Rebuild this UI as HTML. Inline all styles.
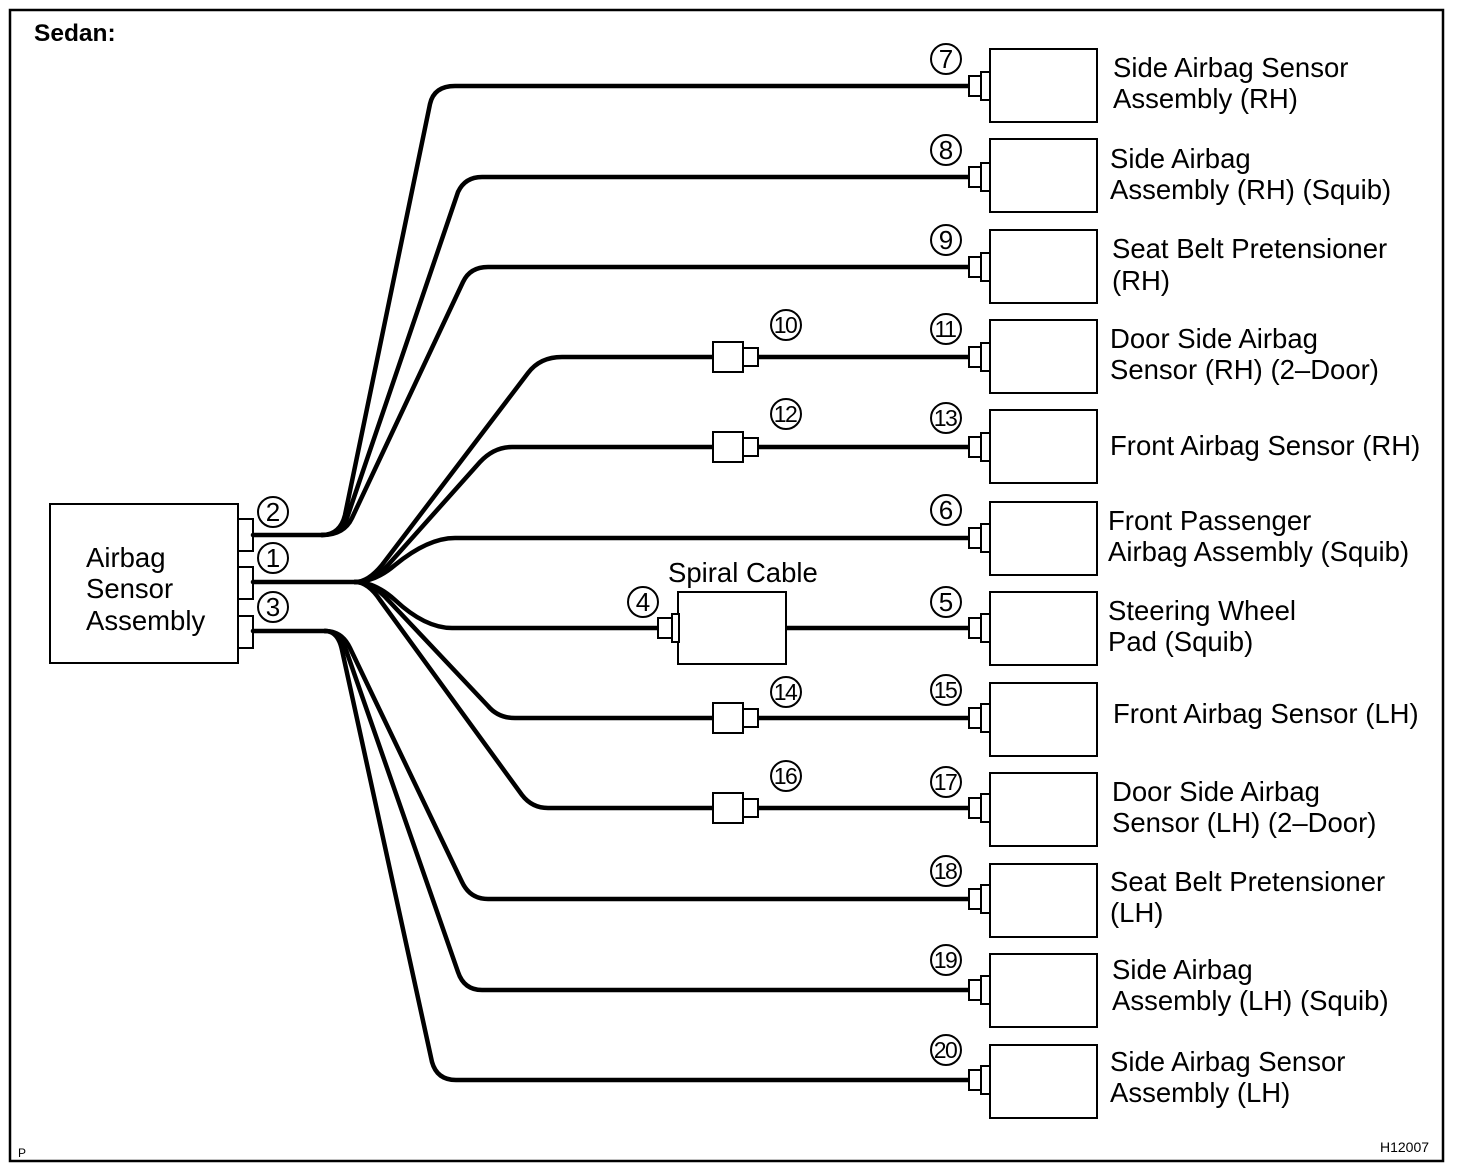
<!DOCTYPE html>
<html><head><meta charset="utf-8"><style>
html,body{margin:0;padding:0;background:#fff}
svg{display:block}
text{font-family:"Liberation Sans",Arial,sans-serif;fill:#000}
</style></head><body>
<svg width="1472" height="1176" viewBox="0 0 1472 1176" xmlns="http://www.w3.org/2000/svg">
<rect x="10" y="10" width="1433" height="1151" fill="none" stroke="#000" stroke-width="2.5"/>
<text x="34" y="41" font-size="24.5" font-weight="bold">Sedan:</text>
<text x="18" y="1157" font-size="12">P</text>
<text x="1380" y="1152" font-size="14">H12007</text>

<rect x="50" y="504" width="188" height="159" fill="#fff" stroke="#000" stroke-width="2"/>
<g font-size="27.5">
<text x="86" y="567">Airbag</text>
<text x="86" y="598">Sensor</text>
<text x="86" y="630">Assembly</text>
</g>
<rect x="238" y="519" width="15" height="32" fill="#fff" stroke="#000" stroke-width="2"/>
<rect x="238" y="567" width="15" height="32" fill="#fff" stroke="#000" stroke-width="2"/>
<rect x="238" y="616" width="15" height="32" fill="#fff" stroke="#000" stroke-width="2"/>

<g fill="none" stroke="#000" stroke-width="4.5" stroke-linecap="round" stroke-linejoin="round">
<path d="M253,535 L322,535"/>
<path d="M253,582 L355,582"/>
<path d="M253,631 L325,631"/>
<path d="M322,535 Q340,535 345,515 L430,104 Q434,86 455,86 L969,86"/>
<path d="M322,535 Q342,535 348,515 L458,192 Q465,177 482,177 L969,177"/>
<path d="M322,535 Q344,535 352,518 L463,282 Q470,267 488,267 L969,267"/>
<path d="M355,582 Q368,582 382,565 L528,373 Q540,357 562,357 L713,357"/>
<path d="M758,357 L969,357"/>
<path d="M355,582 Q372,582 388,565 L480,462 Q494,447 512,447 L713,447"/>
<path d="M758,447 L969,447"/>
<path d="M355,582 Q375,582 395,565 Q428,538 455,538 L969,538"/>
<path d="M355,582 Q375,582 395,600 Q425,628 452,628 L660,628"/>
<path d="M786,628 L969,628"/>
<path d="M355,582 Q372,582 388,600 L488,706 Q498,718 515,718 L713,718"/>
<path d="M758,718 L969,718"/>
<path d="M355,582 Q368,582 380,600 L522,795 Q532,808 548,808 L713,808"/>
<path d="M758,808 L969,808"/>
<path d="M325,631 Q342,631 350,648 L462,882 Q470,899 488,899 L969,899"/>
<path d="M325,631 Q340,631 346,650 L458,972 Q464,990 482,990 L969,990"/>
<path d="M325,631 Q338,631 342,650 L432,1062 Q437,1080 456,1080 L969,1080"/>
</g>

<g fill="#fff" stroke="#000" stroke-width="2">
<circle cx="273" cy="512" r="15"/><circle cx="273" cy="558" r="15"/><circle cx="273" cy="607" r="15"/>
</g>
<g font-size="26" text-anchor="middle">
<text x="273" y="521">2</text><text x="273" y="567">1</text><text x="273" y="616">3</text>
</g>

<g fill="#fff" stroke="#000" stroke-width="2">
<rect x="990" y="49" width="107" height="73"/>
<rect x="990" y="139" width="107" height="73"/>
<rect x="990" y="230" width="107" height="73"/>
<rect x="990" y="320" width="107" height="73"/>
<rect x="990" y="410" width="107" height="73"/>
<rect x="990" y="502" width="107" height="73"/>
<rect x="990" y="592" width="107" height="73"/>
<rect x="990" y="683" width="107" height="73"/>
<rect x="990" y="773" width="107" height="73"/>
<rect x="990" y="864" width="107" height="73"/>
<rect x="990" y="954" width="107" height="73"/>
<rect x="990" y="1045" width="107" height="73"/>
<rect x="969" y="76" width="12" height="20"/><rect x="981" y="72" width="9" height="28"/>
<rect x="969" y="167" width="12" height="20"/><rect x="981" y="163" width="9" height="28"/>
<rect x="969" y="257" width="12" height="20"/><rect x="981" y="253" width="9" height="28"/>
<rect x="969" y="347" width="12" height="20"/><rect x="981" y="343" width="9" height="28"/>
<rect x="969" y="437" width="12" height="20"/><rect x="981" y="433" width="9" height="28"/>
<rect x="969" y="528" width="12" height="20"/><rect x="981" y="524" width="9" height="28"/>
<rect x="969" y="618" width="12" height="20"/><rect x="981" y="614" width="9" height="28"/>
<rect x="969" y="708" width="12" height="20"/><rect x="981" y="704" width="9" height="28"/>
<rect x="969" y="798" width="12" height="20"/><rect x="981" y="794" width="9" height="28"/>
<rect x="969" y="889" width="12" height="20"/><rect x="981" y="885" width="9" height="28"/>
<rect x="969" y="980" width="12" height="20"/><rect x="981" y="976" width="9" height="28"/>
<rect x="969" y="1070" width="12" height="20"/><rect x="981" y="1066" width="9" height="28"/>
<rect x="713" y="342" width="30" height="30"/><rect x="743" y="348" width="15" height="18"/>
<rect x="713" y="432" width="30" height="30"/><rect x="743" y="438" width="15" height="18"/>
<rect x="713" y="703" width="30" height="30"/><rect x="743" y="709" width="15" height="18"/>
<rect x="713" y="793" width="30" height="30"/><rect x="743" y="799" width="15" height="18"/>
<rect x="678" y="592" width="108" height="72"/>
<rect x="658" y="618" width="14" height="20"/><rect x="672" y="614" width="7" height="28"/>
<circle cx="946" cy="59" r="15"/><circle cx="946" cy="150" r="15"/><circle cx="946" cy="240" r="15"/>
<circle cx="946" cy="329" r="15"/><circle cx="946" cy="418" r="15"/><circle cx="946" cy="510" r="15"/>
<circle cx="946" cy="602" r="15"/><circle cx="946" cy="690" r="15"/><circle cx="946" cy="782" r="15"/>
<circle cx="946" cy="871" r="15"/><circle cx="946" cy="960" r="15"/><circle cx="946" cy="1050" r="15"/>
<circle cx="786" cy="325" r="15"/><circle cx="786" cy="414" r="15"/><circle cx="786" cy="692" r="15"/><circle cx="786" cy="776" r="15"/>
<circle cx="643" cy="602" r="15"/>
</g>
<g font-size="26" text-anchor="middle">
<text x="946" y="68">7</text><text x="946" y="159">8</text><text x="946" y="249">9</text>
<text x="946" y="611">5</text><text x="946" y="519">6</text>
<text x="643" y="611">4</text>
</g>
<g font-size="23" text-anchor="middle" letter-spacing="-1.5">
<text x="945" y="337">11</text><text x="945" y="426">13</text>
<text x="945" y="698">15</text><text x="945" y="790">17</text>
<text x="945" y="879">18</text><text x="945" y="968">19</text><text x="945" y="1058">20</text>
<text x="785" y="333">10</text><text x="785" y="422">12</text><text x="785" y="700">14</text><text x="785" y="784">16</text>
</g>
<text x="668" y="582" font-size="27.5">Spiral Cable</text>

<g font-size="27.5">
<text x="1113" y="77">Side Airbag Sensor</text><text x="1113" y="108">Assembly (RH)</text>
<text x="1110" y="168">Side Airbag</text><text x="1110" y="199">Assembly (RH) (Squib)</text>
<text x="1112" y="258">Seat Belt Pretensioner</text><text x="1112" y="290">(RH)</text>
<text x="1110" y="348">Door Side Airbag</text><text x="1110" y="379">Sensor (RH) (2–Door)</text>
<text x="1110" y="455">Front Airbag Sensor (RH)</text>
<text x="1108" y="530">Front Passenger</text><text x="1108" y="561">Airbag Assembly (Squib)</text>
<text x="1108" y="620">Steering Wheel</text><text x="1108" y="651">Pad (Squib)</text>
<text x="1113" y="723">Front Airbag Sensor (LH)</text>
<text x="1112" y="801">Door Side Airbag</text><text x="1112" y="832">Sensor (LH) (2–Door)</text>
<text x="1110" y="891">Seat Belt Pretensioner</text><text x="1110" y="922">(LH)</text>
<text x="1112" y="979">Side Airbag</text><text x="1112" y="1010">Assembly (LH) (Squib)</text>
<text x="1110" y="1071">Side Airbag Sensor</text><text x="1110" y="1102">Assembly (LH)</text>
</g>
</svg>
</body></html>
